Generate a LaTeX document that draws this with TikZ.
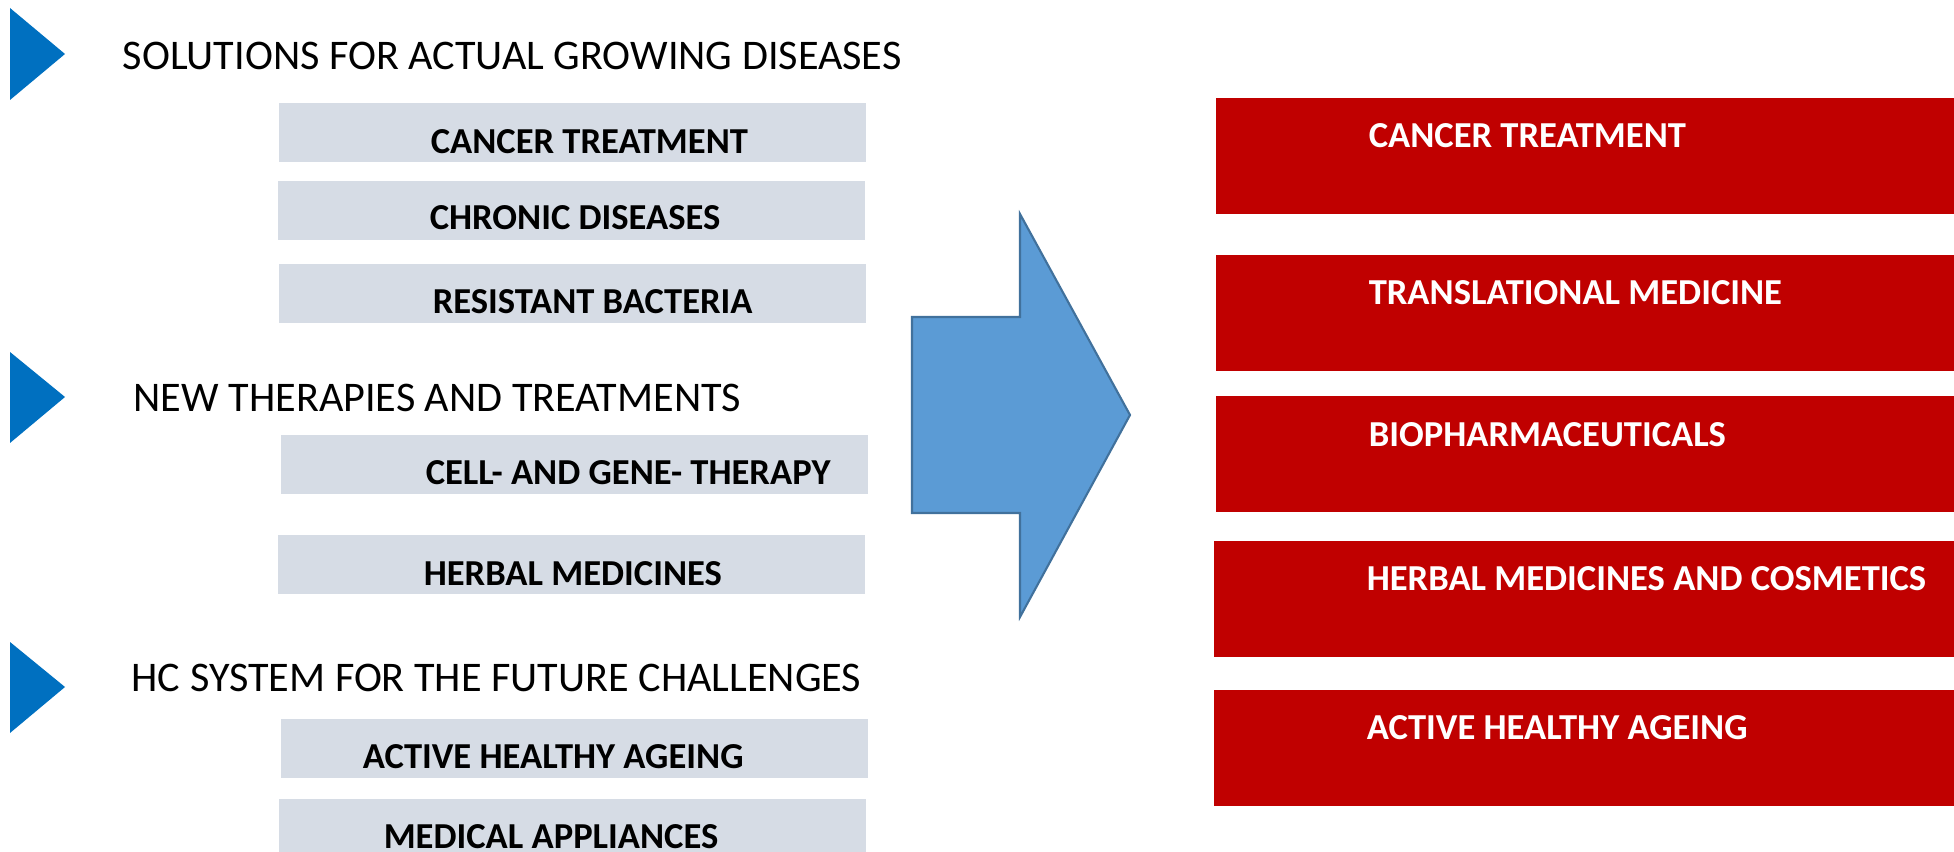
\documentclass[tikz,border=0pt]{standalone}
\usepackage{fontspec}
\setmainfont{Carlito}
\usepackage{tikz}

\definecolor{markblue}{HTML}{0070C0}
\definecolor{itemgrey}{HTML}{D6DCE5}
\definecolor{areared}{HTML}{C00000}
\definecolor{arrowfill}{HTML}{5B9BD5}
\definecolor{arrowline}{HTML}{41719C}

\begin{document}
\begin{tikzpicture}[x=0.01cm, y=-0.01cm,
	greybox/.style={fill=itemgrey, inner sep=0, outer sep=0, anchor=north west, minimum width=5.87cm, minimum height=0.59cm},
	redbox/.style={fill=areared, inner sep=0, outer sep=0, anchor=north west, minimum width=7.40cm, minimum height=1.16cm},
	itemtext/.style={inner sep=0, anchor=base west, font=\bfseries\fontsize{10.4}{12}\selectfont},
	areatext/.style={itemtext, text=white},
	headtext/.style={inner sep=0, anchor=base west, font=\fontsize{12}{14}\selectfont},
	marker/.style={fill=markblue}]
	\useasboundingbox (0,0) rectangle (1954,852);

	% headings with their blue markers
	\fill[marker] (10,8) -- (65,54) -- (10,100) -- cycle;
	\fill[marker] (10,352) -- (65,397) -- (10,443) -- cycle;
	\fill[marker] (10,642) -- (65,687) -- (10,733) -- cycle;
	\node[headtext] (h1) at (122,70) {SOLUTIONS FOR ACTUAL GROWING DISEASES};
	\node[headtext] (h2) at (133,412) {NEW THERAPIES AND TREATMENTS};
	\node[headtext] (h3) at (131,692) {HC SYSTEM FOR THE FUTURE CHALLENGES};

	% grey items
	\node[greybox] (g1) at (279,103) {};
	\node[greybox] (g2) at (278,181) {};
	\node[greybox] (g3) at (279,264) {};
	\node[greybox] (g4) at (281,435) {};
	\node[greybox] (g5) at (278,535) {};
	\node[greybox] (g6) at (281,719) {};
	\node[greybox] (g7) at (279,799) {};
	\node[itemtext] (g1t) at ([xshift=1.51cm, yshift=-0.50cm]g1.north west) {CANCER TREATMENT};
	\node[itemtext] (g2t) at ([xshift=1.51cm, yshift=-0.48cm]g2.north west) {CHRONIC DISEASES};
	\node[itemtext] (g3t) at ([xshift=1.53cm, yshift=-0.49cm]g3.north west) {RESISTANT BACTERIA};
	\node[itemtext] (g4t) at ([xshift=1.44cm, yshift=-0.49cm]g4.north west) {CELL- AND GENE- THERAPY};
	\node[itemtext] (g5t) at ([xshift=1.45cm, yshift=-0.50cm]g5.north west) {HERBAL MEDICINES};
	\node[itemtext] (g6t) at ([xshift=0.81cm, yshift=-0.49cm]g6.north west) {ACTIVE HEALTHY AGEING};
	\node[itemtext] (g7t) at ([xshift=1.04cm, yshift=-0.49cm]g7.north west) {MEDICAL APPLIANCES};

	% big arrow
	\draw[fill=arrowfill, draw=arrowline, line width=0.6pt, line join=miter]
		(912,317) -- (1020,317) -- (1020,214) -- (1130,415) -- (1020,617) -- (1020,513) -- (912,513) -- cycle;

	% red areas
	\node[redbox] (r1) at (1216,98) {};
	\node[redbox] (r2) at (1216,255) {};
	\node[redbox] (r3) at (1216,396) {};
	\node[redbox] (r4) at (1214,541) {};
	\node[redbox] (r5) at (1214,690) {};
	\node[areatext] (r1t) at ([xshift=1.52cm, yshift=-0.49cm]r1.north west) {CANCER TREATMENT};
	\node[areatext] (r2t) at ([xshift=1.52cm, yshift=-0.49cm]r2.north west) {TRANSLATIONAL MEDICINE};
	\node[areatext] (r3t) at ([xshift=1.52cm, yshift=-0.50cm]r3.north west) {BIOPHARMACEUTICALS};
	\node[areatext] (r4t) at ([xshift=1.52cm, yshift=-0.49cm]r4.north west) {HERBAL MEDICINES AND COSMETICS};
	\node[areatext] (r5t) at ([xshift=1.52cm, yshift=-0.49cm]r5.north west) {ACTIVE HEALTHY AGEING};
\end{tikzpicture}
\end{document}
